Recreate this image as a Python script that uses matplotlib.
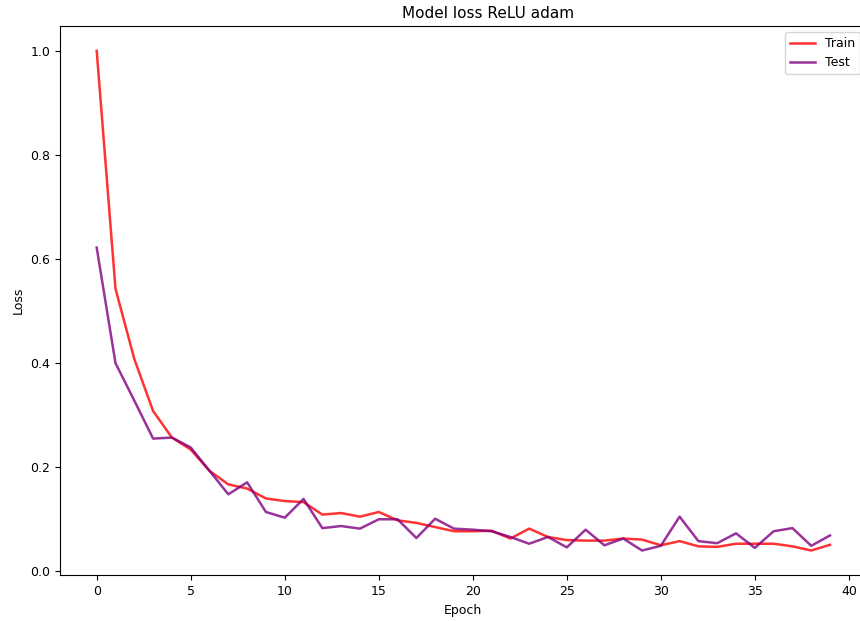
import numpy as np
import matplotlib
matplotlib.use("Agg")
import matplotlib.pyplot as plt

# loss per epoch
train_loss = [1.000, 0.543, 0.408, 0.308, 0.257, 0.234, 0.193, 0.167, 0.159, 0.140,
              0.135, 0.133, 0.109, 0.112, 0.105, 0.114, 0.098, 0.093, 0.085, 0.077,
              0.077, 0.078, 0.063, 0.082, 0.066, 0.060, 0.059, 0.059, 0.063, 0.061,
              0.050, 0.058, 0.048, 0.047, 0.053, 0.053, 0.053, 0.048, 0.040, 0.051]
test_loss = [0.622, 0.400, 0.328, 0.255, 0.257, 0.238, 0.193, 0.148, 0.171, 0.114,
             0.103, 0.139, 0.083, 0.087, 0.082, 0.100, 0.100, 0.064, 0.101, 0.082,
             0.080, 0.077, 0.066, 0.053, 0.066, 0.046, 0.080, 0.050, 0.063, 0.040,
             0.049, 0.105, 0.058, 0.054, 0.073, 0.045, 0.077, 0.083, 0.049, 0.069]
epochs = np.arange(len(train_loss))

plt.rcParams['font.size'] = 9

fig = plt.figure(figsize=(8.6, 6.21), dpi=100)
# the reference is cropped on the right, so the axes run slightly past the figure edge
ax = fig.add_axes([0.0698, 0.0733, 0.938, 0.885])

ax.plot(epochs, train_loss, color='red', alpha=0.8, linewidth=1.8, label='Train')
ax.plot(epochs, test_loss, color='purple', alpha=0.8, linewidth=1.8, label='Test')

ax.set_title('Model loss ReLU adam', fontsize=11, x=0.53)
ax.set_xlabel('Epoch')
ax.set_ylabel('Loss')
ax.set_xticks(np.arange(0, 45, 5))
ax.set_yticks([0.0, 0.2, 0.4, 0.6, 0.8, 1.0])
ax.legend(loc='upper right')

fig.savefig('out.png', dpi=100)
